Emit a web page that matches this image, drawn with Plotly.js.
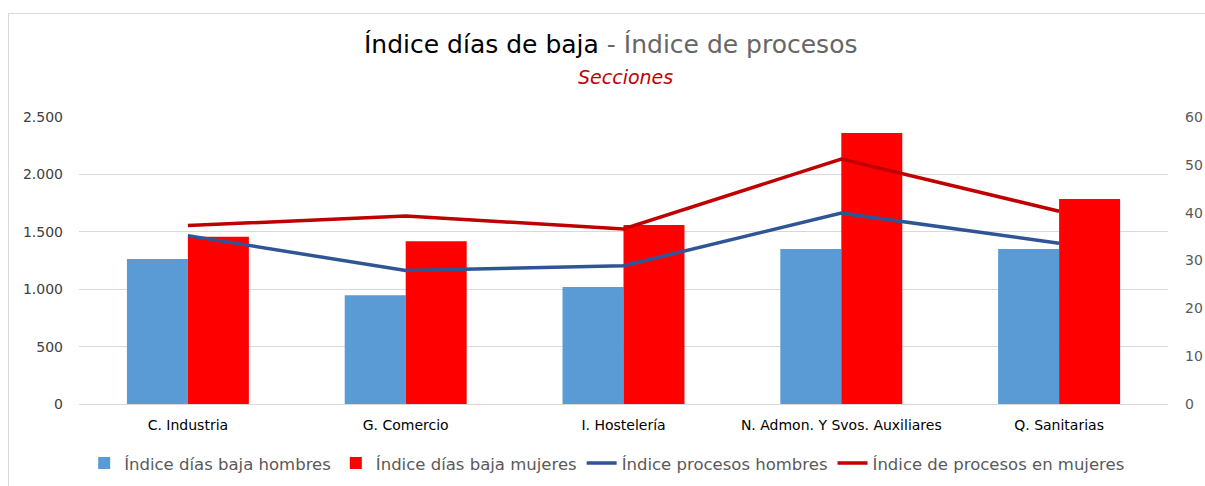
<!DOCTYPE html>
<html>
<head>
<meta charset="utf-8">
<script src="https://cdn.plot.ly/plotly-3.0.1.min.js"></script>
<style>
  html, body { margin: 0; padding: 0; background: #fff; }
  #frame { position: absolute; left: 8px; top: 13px; width: 1196px; height: 473px;
           border-left: 1px solid #d9d9d9; border-top: 1px solid #d9d9d9; }
  #chart { width: 1196px; height: 473px; }
</style>
</head>
<body>
<div id="frame"><div id="chart"></div></div>
<script>
const categories = ["C. Industria", "G. Comercio", "I. Hostelería", "N. Admon. Y Svos. Auxiliares", "Q. Sanitarias"];
const diasHombres = [1262, 948, 1020, 1350, 1350];
const diasMujeres = [1456, 1418, 1560, 2360, 1785];
const procesosHombres = [35.2, 27.9, 28.9, 39.9, 33.6];
const procesosMujeres = [37.3, 39.3, 36.6, 51.2, 40.3];
const leftTicks = [0, 500, 1000, 1500, 2000, 2500];
const rightTicks = [0, 10, 20, 30, 40, 50, 60];
const titleMain = "Índice días de baja";
const titleSecond = " - Índice de procesos";
const subtitle = "Secciones";

const FONT = "DejaVu Sans, Verdana, sans-serif";
const traces = [
  { type: "bar", name: "Índice días baja hombres", x: categories, y: diasHombres,
    marker: { color: "#5B9BD5" } },
  { type: "bar", name: "Índice días baja mujeres", x: categories, y: diasMujeres,
    marker: { color: "#FF0000" } },
  { type: "scatter", mode: "lines", name: "Índice procesos hombres", x: categories, y: procesosHombres,
    yaxis: "y2", line: { color: "#2F5597", width: 3.5 } },
  { type: "scatter", mode: "lines", name: "Índice de procesos en mujeres", x: categories, y: procesosMujeres,
    yaxis: "y2", line: { color: "#C00000", width: 3.5 } }
];

const layout = {
  width: 1196, height: 473,
  margin: { l: 70, r: 37, t: 103, b: 83 },
  paper_bgcolor: "#fff", plot_bgcolor: "#fff",
  separators: ",.",
  font: { family: FONT, color: "#595959", size: 13 },
  annotations: [
    { text: "<span style='color:#000000'>" + titleMain + "</span>" + titleSecond,
      xref: "paper", yref: "paper", x: 0.4885, y: 1.254, xanchor: "center", yanchor: "middle",
      showarrow: false, font: { family: FONT, size: 25, color: "#666666" } },
    { text: "<i>" + subtitle + "</i>",
      xref: "paper", yref: "paper", x: 0.502, y: 1.138, xanchor: "center", yanchor: "middle",
      showarrow: false, font: { family: FONT, size: 19, color: "#C00000" } }
  ],
  barmode: "group", bargap: 0.44, bargroupgap: 0,
  xaxis: {
    type: "category", showgrid: false, showline: true, linecolor: "#d9d9d9", linewidth: 1,
    ticks: "", ticklabelstandoff: 8, tickfont: { color: "#000000", size: 14, family: FONT }
  },
  yaxis: {
    range: [0, 2500], tickvals: leftTicks, tickformat: ",.0f",
    showgrid: true, gridcolor: "#d9d9d9", gridwidth: 1, zeroline: false,
    showline: false, ticks: "", tickfont: { color: "#404040", size: 14, family: FONT },
    ticklabelstandoff: 15
  },
  yaxis2: {
    overlaying: "y", side: "right", range: [0, 60], tickvals: rightTicks,
    showgrid: false, zeroline: false, showline: false, ticks: "",
    ticklabelstandoff: 16,
    tickfont: { color: "#595959", size: 14, family: FONT }
  },
  legend: {
    orientation: "h", x: 0.485, xanchor: "center", xref: "paper",
    y: 0.05, yanchor: "middle", yref: "container",
    font: { color: "#595959", size: 16.5, family: FONT }, traceorder: "normal"
  },
  showlegend: true
};

Plotly.newPlot("chart", traces, layout, { displayModeBar: false, staticPlot: true });
</script>
</body>
</html>
